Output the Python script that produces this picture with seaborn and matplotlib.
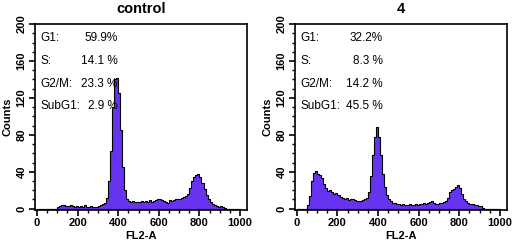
import numpy as np
import pandas as pd
import matplotlib
matplotlib.use("Agg")
import matplotlib.pyplot as plt
from matplotlib.ticker import MultipleLocator
import seaborn as sns

# FL2-A channel bins (width 10) and counts
bin_edges = np.arange(0, 1001, 10)

control_counts = [
    0, 0, 0, 0, 0, 0, 0, 0, 0, 0,
    2, 3, 4, 4, 3, 3, 4, 3, 2, 3,
    2, 3, 2, 4, 2, 2, 3, 2, 2, 2,
    3, 4, 5, 6, 12, 30, 62, 110, 140, 142,
    125, 85, 45, 20, 10, 8, 7, 8, 7, 7,
    7, 8, 7, 8, 7, 9, 7, 8, 9, 10,
    11, 9, 8, 7, 6, 9, 8, 9, 10, 10,
    11, 12, 13, 14, 16, 22, 30, 34, 36, 38,
    34, 28, 21, 15, 10, 7, 5, 4, 3, 2,
    3, 2, 1, 0, 0, 0, 0, 0, 0, 0,
]

treated_counts = [
    0, 0, 0, 0, 0, 4, 14, 30, 39, 41,
    38, 36, 33, 27, 22, 19, 20, 18, 16, 17,
    15, 13, 12, 11, 12, 9, 10, 11, 9, 8,
    8, 8, 9, 10, 12, 18, 35, 58, 78, 88,
    78, 58, 38, 24, 15, 10, 8, 6, 6, 5,
    5, 4, 5, 4, 4, 5, 4, 4, 5, 4,
    5, 5, 6, 5, 6, 7, 8, 6, 5, 5,
    6, 6, 7, 8, 12, 18, 20, 21, 24, 26,
    22, 16, 11, 8, 6, 5, 5, 4, 4, 3,
    3, 1, 0, 0, 0, 0, 0, 0, 0, 0,
]

titles = ["control", "4"]
phase_labels = ["G1:", "S:", "G2/M:", "SubG1:"]
control_pcts = ["59.9%", "14.1 %", "23.3 %", "2.9 %"]
treated_pcts = ["32.2%", "8.3 %", "14.2 %", "45.5 %"]

sns.set_style("ticks")
plt.rcParams["font.family"] = ["Liberation Sans", "DejaVu Sans"]
plt.rcParams["text.color"] = "black"
plt.rcParams["axes.labelcolor"] = "black"
plt.rcParams["xtick.color"] = "black"
plt.rcParams["ytick.color"] = "black"

fig = plt.figure(figsize=(5.2, 2.48), dpi=100)
ax_pos = [[0.0673, 0.153, 0.408, 0.75], [0.567, 0.153, 0.408, 0.75]]
# right edge of the percentage column in each panel (axes fraction)
pct_right = [0.39, 0.415]
rows_y = [0.925, 0.80, 0.678, 0.56]

centers = bin_edges[:-1] + 5
for i, (counts, pcts) in enumerate([(control_counts, control_pcts),
                                    (treated_counts, treated_pcts)]):
    ax = fig.add_axes(ax_pos[i])
    df = pd.DataFrame({"fl2a": centers, "n": counts})
    sns.histplot(data=df, x="fl2a", weights="n", binwidth=10, binrange=(0, 1000),
                 element="step", fill=True, color="#6633f0", alpha=1,
                 edgecolor="black", linewidth=0.8, ax=ax)
    ax.set_xlim(-10, 1035)
    ax.set_ylim(-1.5, 200)
    ax.xaxis.set_major_locator(MultipleLocator(200))
    ax.xaxis.set_minor_locator(MultipleLocator(50))
    ax.yaxis.set_major_locator(MultipleLocator(40))
    ax.yaxis.set_minor_locator(MultipleLocator(10))
    ax.tick_params(which="major", direction="out", length=4, width=1.2,
                   labelsize=8, pad=2)
    ax.tick_params(which="minor", direction="out", length=2.5, width=1)
    for lab in ax.get_xticklabels() + ax.get_yticklabels():
        lab.set_fontweight("bold")
    for lab in ax.get_yticklabels():
        lab.set_rotation(90)
        lab.set_va("center")
    for s in ax.spines.values():
        s.set_visible(True)
        s.set_linewidth(1.2)
        s.set_color("black")
    ax.set_xlabel("FL2-A", fontsize=8, fontweight="bold", labelpad=2)
    ax.set_ylabel("Counts", fontsize=8, fontweight="bold", labelpad=3)
    ax.set_title(titles[i], fontsize=10.5, fontweight="bold", pad=8)

    for j in range(4):
        ax.text(0.025, rows_y[j], phase_labels[j], transform=ax.transAxes,
                fontsize=8.5, va="center", ha="left")
        ax.text(pct_right[i], rows_y[j], pcts[j], transform=ax.transAxes,
                fontsize=8.5, va="center", ha="right")

fig.savefig("out.png", dpi=100)
